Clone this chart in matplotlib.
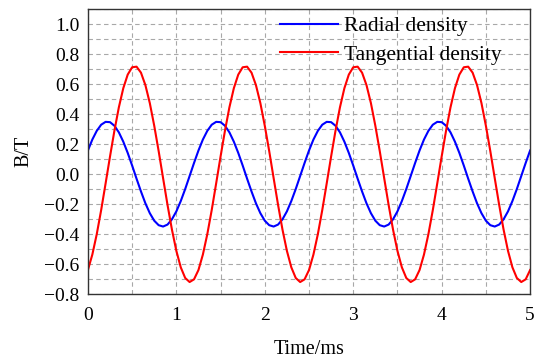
import matplotlib
matplotlib.use("Agg")
import matplotlib.pyplot as plt
from matplotlib.ticker import MultipleLocator, FuncFormatter

# time axis (ms), sampled every 0.05 ms
time_ms = [round(0.05 * i, 2) for i in range(101)]

# one period (25 samples), repeated over 4 periods
radial_cycle = [0.157, 0.230, 0.288, 0.329, 0.348, 0.346, 0.322, 0.278, 0.216, 0.141,
                0.057, -0.031, -0.116, -0.195, -0.261, -0.311, -0.341, -0.350, -0.337, -0.302,
                -0.249, -0.180, -0.100, -0.013, 0.074]
tangential_cycle = [-0.640, -0.537, -0.401, -0.240, -0.063, 0.117, 0.290, 0.445, 0.572, 0.663,
                    0.712, 0.716, 0.676, 0.593, 0.473, 0.322, 0.153, -0.027, -0.205, -0.370,
                    -0.512, -0.622, -0.693, -0.720, -0.702]

radial = (radial_cycle * 5)[:101]
tangential = (tangential_cycle * 5)[:101]

series_labels = ["Radial density", "Tangential density"]
x_label = "Time/ms"
y_label = "B/T"
y_ticks = [-0.8, -0.6, -0.4, -0.2, 0.0, 0.2, 0.4, 0.6, 0.8, 1.0]

plt.rcParams['font.family'] = ['Liberation Serif', 'DejaVu Serif']

fig = plt.figure(figsize=(5.36, 3.63), dpi=100)
ax = fig.add_axes([0.164, 0.190, 0.825, 0.785])

ax.plot(time_ms, radial, color='#0000ff', lw=1.5, label=series_labels[0])
ax.plot(time_ms, tangential, color='#ff0000', lw=1.5, label=series_labels[1])

ax.set_xlim(0, 5)
ax.set_ylim(-0.8, 1.1)
ax.xaxis.set_major_locator(MultipleLocator(1))
ax.xaxis.set_minor_locator(MultipleLocator(0.5))
ax.set_yticks(y_ticks)
ax.yaxis.set_minor_locator(MultipleLocator(0.1))
ax.yaxis.set_major_formatter(FuncFormatter(lambda v, p: f"{v:.1f}".replace('-', '\u2212') if abs(v) > 1e-9 else "0.0"))

ax.grid(True, which='both', linestyle=(0, (4, 3)), color='#a8a8a8', lw=0.8)
ax.set_axisbelow(True)
ax.tick_params(which='both', direction='in', length=0, labelsize=14)
ax.tick_params(axis='x', pad=9)
ax.tick_params(axis='y', pad=6)
for s in ax.spines.values():
    s.set_color('#333333')
    s.set_linewidth(1.0)

ax.set_xlabel(x_label, fontsize=14.5, labelpad=12)
ax.set_ylabel(y_label, fontsize=14.5, labelpad=8)

leg = ax.legend(loc='upper left', bbox_to_anchor=(0.425, 0.99), frameon=False,
                fontsize=15.5, handlelength=2.7, handletextpad=0.25,
                labelspacing=0.38, borderpad=0.2, borderaxespad=0)

fig.savefig('out.png', dpi=100)
